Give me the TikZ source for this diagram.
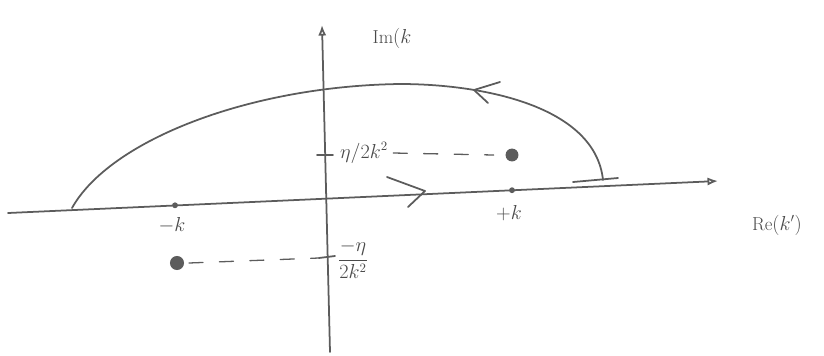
\documentclass[tikz,border=0pt]{standalone}
\usetikzlibrary{arrows.meta}
\definecolor{pen}{HTML}{5C5C5C}
\definecolor{ink}{HTML}{4A4A4A}
\begin{document}
\begin{tikzpicture}[x=0.03cm,y=-0.03cm,
  pencil/.style={draw=pen, line width=1.5pt, line cap=round, line join=round},
  lbl/.style={text=ink, font=\fontsize{16}{18}\selectfont, inner sep=1pt},
  dot/.style={circle, fill=pen, inner sep=0pt, minimum size=#1},
  guide/.style={pencil, line width=1.1pt, dash pattern=on 12pt off 14pt}]
\useasboundingbox (0,0) rectangle (824,355);
% axes
\coordinate (reL) at (8,213);
\coordinate (reR) at (718,181);
\coordinate (imB) at (330,352);
\coordinate (imT) at (322,25);
\draw[pencil,-{Latex[open,length=9pt,width=7pt]}] (reL) -- (reR);
\draw[pencil,-{Latex[open,length=9pt,width=7pt]}] (imB) -- (imT);
% points on the real axis
\node[dot=5pt] (mk) at (175,205.3) {};
\node[dot=5pt] (pk) at (512,190.2) {};
% poles
\node[dot=11pt] (pU) at (512,155) {};
\node[dot=12pt] (pL) at (177,263) {};
% ticks on imaginary axis
\coordinate (tU1) at (317,155);
\coordinate (tU2) at (333,155);
\coordinate (tL1) at (319,258);
\coordinate (tL2) at (335,256);
\draw[pencil] (tU1) -- (tU2);
\draw[pencil] (tL1) -- (tL2);
% labels
\node[lbl] (lU) at (364,153) {$\eta/2k^2$};
\node[lbl] (lL) at (353,259) {$\displaystyle\frac{-\eta}{2k^2}$};
\node[lbl] (lmk) at (172,225) {$-k$};
\node[lbl] (lpk) at (509,213) {$+k$};
\node[lbl] (lre) at (777,225) {Re$(k')$};
\node[lbl] (lim) at (392,38) {Im$(k$};
% dashed guides
\draw[guide] (lU.east) ++(4,0) -- ([xshift=-10]pU.west);
\draw[guide] ([xshift=4]pL.east) -- (tL1);
% contour
\coordinate (cS) at (72,208);
\coordinate (cT) at (400,84);
\coordinate (cE) at (603,180);
\draw[pencil] (cS) .. controls (110,140) and (250,86) .. (cT)
  .. controls (480,84) and (595,105) .. (cE);
\draw[pencil] (573,182) -- (618,178);
% arrow marks
\draw[pencil] (500,82) -- (474,90) -- (488,103);
\draw[pencil] (387,177) -- (425,191) -- (408,207);
\end{tikzpicture}
\end{document}
